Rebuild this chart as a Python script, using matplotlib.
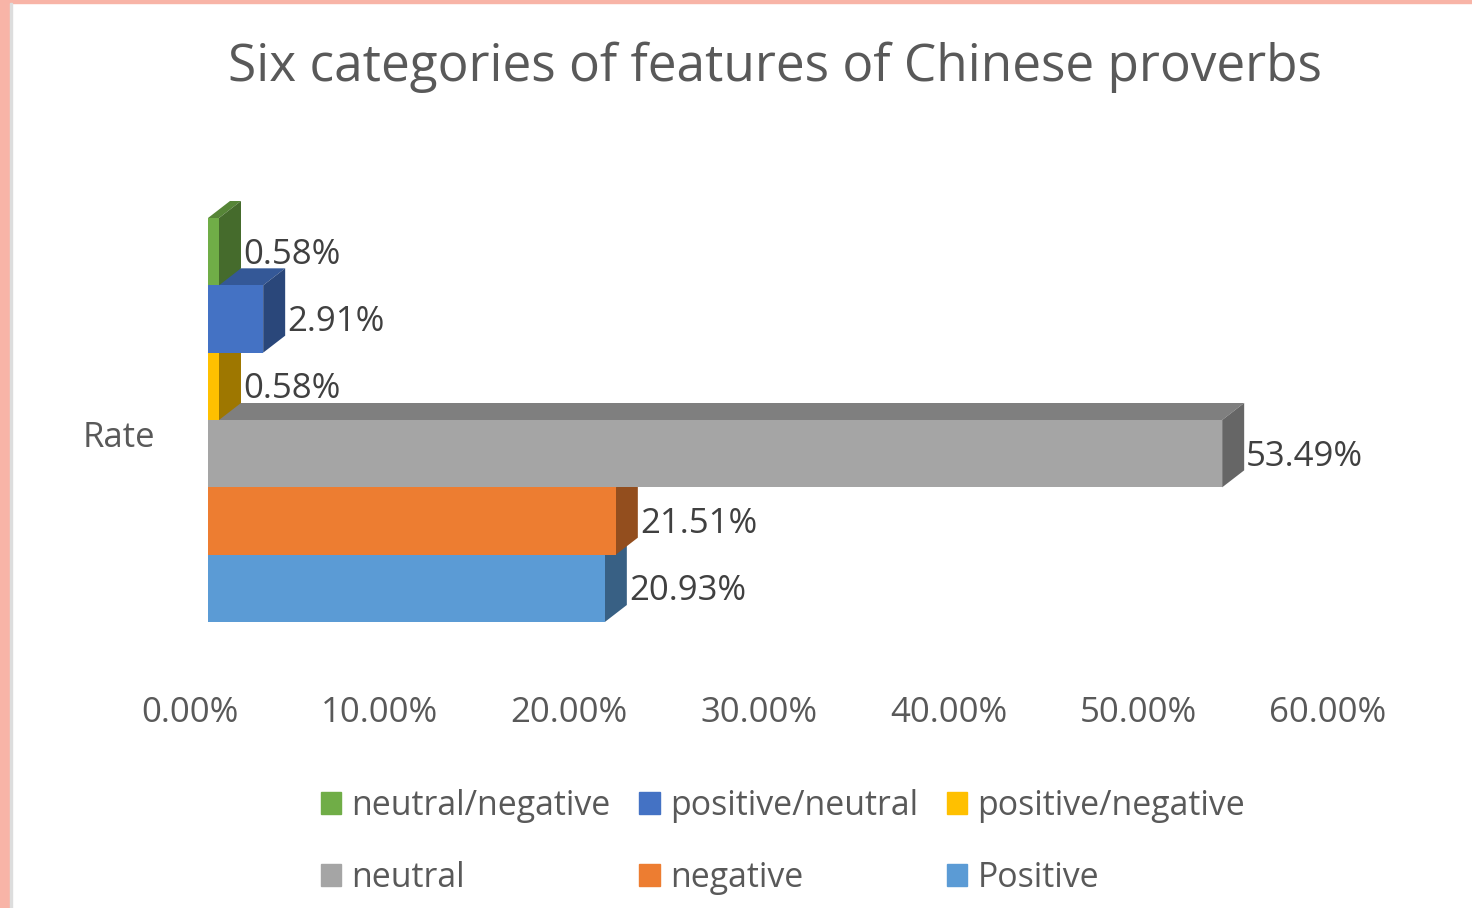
import matplotlib.pyplot as plt
from matplotlib.patches import Polygon, Rectangle
from matplotlib.transforms import ScaledTranslation
from matplotlib.colors import to_rgb

plt.rcParams['font.family'] = ['Open Sans', 'DejaVu Sans']

# series, bottom to top as drawn
categories = ['Positive', 'negative', 'neutral', 'positive/negative', 'positive/neutral', 'neutral/negative']
rates = [20.93, 21.51, 53.49, 0.58, 2.91, 0.58]
colors = ['#5B9BD5', '#ED7D31', '#A5A5A5', '#FFC000', '#4472C4', '#70AD47']
xticks = [0, 10, 20, 30, 40, 50, 60]
xtick_labels = ['0.00%', '10.00%', '20.00%', '30.00%', '40.00%', '50.00%', '60.00%']

W, H = 1472, 908
fig = plt.figure(figsize=(W / 100, H / 100), dpi=100)
fig.patch.set_facecolor('white')

# salmon frame on the left and top edges
fig.add_artist(Rectangle((0, 0), 10 / W, 1, transform=fig.transFigure, color='#F8B4A7', zorder=0))
fig.add_artist(Rectangle((0, 1 - 3 / H), 1, 3 / H, transform=fig.transFigure, color='#F8B4A7', zorder=0))
fig.add_artist(Rectangle((10 / W, 0), 1.5 / W, 1 - 3 / H, transform=fig.transFigure, color='#DDDDDD', zorder=0))

left_px, right_px = 208, 208 + 60 * 18.96
top_px, bot_px = 218, 622
ax = fig.add_axes([left_px / W, 1 - bot_px / H, (right_px - left_px) / W, (bot_px - top_px) / H])
ax.set_xlim(0, 60)
ax.set_ylim(-0.5, len(categories) - 0.5)
for s in ax.spines.values():
    s.set_visible(False)
ax.set_yticks([])

# depth of the 3D blocks, converted from pixels to data units
px_x = 60 / (right_px - left_px)
px_y = len(categories) / (bot_px - top_px)
dx, dy = 22 * px_x, 17 * px_y

FS = 25


def shade(c, f):
    r, g, b = to_rgb(c)
    return (r * f, g * f, b * f)


for i, (name, v, c) in enumerate(zip(categories, rates, colors)):
    y0, y1 = i - 0.5, i + 0.5
    front = Polygon([(0, y0), (v, y0), (v, y1), (0, y1)], closed=True,
                    facecolor=c, edgecolor='none', clip_on=False, zorder=3 + i)
    top = Polygon([(0, y1), (dx, y1 + dy), (v + dx, y1 + dy), (v, y1)], closed=True,
                  facecolor=shade(c, 0.77), edgecolor='none', clip_on=False, zorder=3 + i)
    side = Polygon([(v, y0), (v + dx, y0 + dy), (v + dx, y1 + dy), (v, y1)], closed=True,
                   facecolor=shade(c, 0.62), edgecolor='none', clip_on=False, zorder=3 + i)
    ax.add_patch(top)
    ax.add_patch(side)
    ax.add_patch(front)
    ax.text(v + dx + 2 * px_x, i - 3 * px_y, f'{v:.2f}%', ha='left', va='center',
            fontsize=FS, color='#404040', zorder=20, clip_on=False)

ax.set_xticks(xticks)
ax.set_xticklabels(xtick_labels, fontsize=FS, color='#595959')
ax.tick_params(axis='x', length=0, pad=53)
for lab in ax.get_xticklabels():
    lab.set_transform(lab.get_transform() + ScaledTranslation(-18 / 100, 0, fig.dpi_scale_trans))

fig.text(119 / W, 1 - 438 / H, 'Rate', ha='center', va='center', fontsize=FS, color='#595959')

fig.suptitle('Six categories of features of Chinese proverbs', x=775 / W, y=1 - 67 / H,
             va='center', fontsize=37, color='#595959')

# legend laid out row by row: matplotlib fills columns first, so reorder
handles = {n: Rectangle((0, 0), 1, 1, color=c) for n, c in zip(categories, colors)}
order = ['neutral/negative', 'neutral', 'positive/neutral', 'negative', 'positive/negative', 'Positive']
leg = fig.legend([handles[n] for n in order], order, ncol=3, loc='center',
                 bbox_to_anchor=(783 / W, 1 - 842 / H), frameon=False, fontsize=24.4,
                 handlelength=0.6, handleheight=0.6, handletextpad=0.3,
                 columnspacing=0.85, labelspacing=1.13, borderpad=0)
for t in leg.get_texts():
    t.set_color('#595959')

fig.savefig('out.png', dpi=100, facecolor='white')
